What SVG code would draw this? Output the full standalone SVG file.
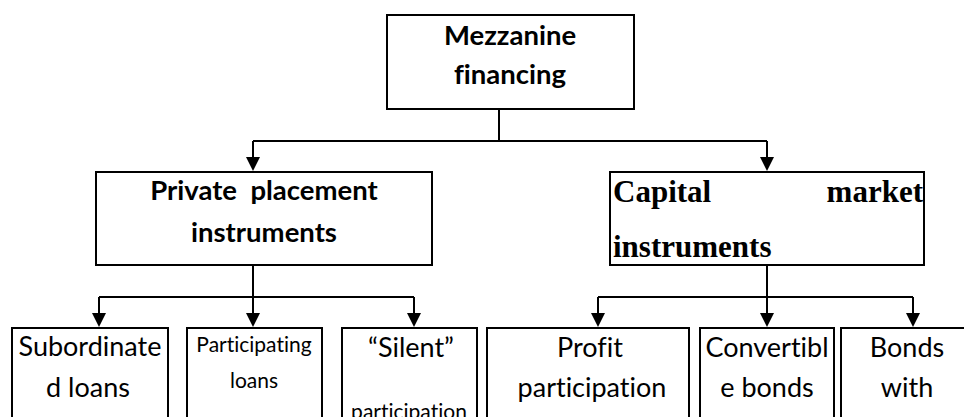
<svg xmlns="http://www.w3.org/2000/svg" width="964" height="417" viewBox="0 0 964 417">
  <style>
    text { font-variant-ligatures: none; }
    .box { fill: #ffffff; stroke: #000000; stroke-width: 2; }
    .link { fill: none; stroke: #000000; stroke-width: 2; }
    .hd { font-family: Lato, "Open Sans", sans-serif; font-weight: bold; font-size: 27.5px; fill: #000; text-anchor: middle; }
    .serif { font-family: "Liberation Serif", "Times New Roman", serif; font-weight: bold; font-size: 31px; fill: #000; }
    .leaf { font-family: Lato, "Open Sans", sans-serif; font-size: 27px; fill: #000; text-anchor: middle; }
    .leaf-sm { font-family: Lato, "Open Sans", sans-serif; font-size: 21px; fill: #000; text-anchor: middle; }
  </style>
  <rect width="964" height="417" fill="#ffffff"/>

  <!-- connectors: trunk lines, then arrowheads -->
  <g id="connectors">
    <g class="link">
      <path d="M499,109 V141 M253,141 H767"/>
      <path d="M253,141 V157"/>
      <path d="M767,141 V157"/>
      <path d="M253,265 V297 M99,297 H414"/>
      <path d="M767,265 V297 M598,297 H913"/>
      <path d="M99,297 V313 M253,297 V313 M414,297 V313 M598,297 V313 M767,297 V313 M913,297 V313"/>
    </g>
    <g fill="#000">
      <polygon points="246,157 260,157 253,171"/>
      <polygon points="760,157 774,157 767,171"/>
      <polygon points="92,313 106,313 99,327"/>
      <polygon points="246,313 260,313 253,327"/>
      <polygon points="407,313 421,313 414,327"/>
      <polygon points="591,313 605,313 598,327"/>
      <polygon points="760,313 774,313 767,327"/>
      <polygon points="906,313 920,313 913,327"/>
    </g>
  </g>

  <g id="root">
    <rect class="box" x="387" y="15" width="247" height="94"/>
    <text class="hd" x="510" y="45">Mezzanine</text>
    <text class="hd" x="510" y="84">financing</text>
  </g>

  <g id="private">
    <rect class="box" x="96" y="172" width="336" height="93"/>
    <text class="hd" x="264" y="200" xml:space="preserve">Private  placement</text>
    <text class="hd" x="264" y="242">instruments</text>
  </g>

  <g id="capital">
    <rect class="box" x="610" y="172" width="314" height="93"/>
    <text class="serif" x="613" y="202">Capital</text>
    <text class="serif" x="923" y="202" text-anchor="end">market</text>
    <text class="serif" x="613" y="257">instruments</text>
  </g>

  <g id="subordinated">
    <rect class="box" x="12" y="328" width="156" height="110"/>
    <text class="leaf" x="90" y="356">Subordinate</text>
    <text class="leaf" x="88" y="397">d loans</text>
  </g>

  <g id="participating">
    <rect class="box" x="187" y="328" width="135" height="110"/>
    <text class="leaf-sm" x="254" y="352">Participating</text>
    <text class="leaf-sm" x="254" y="388">loans</text>
  </g>

  <g id="silent">
    <rect class="box" x="342" y="328" width="135" height="110"/>
    <text class="leaf" x="411" y="357">“Silent”</text>
    <text class="leaf-sm" x="409" y="419">participation</text>
  </g>

  <g id="profit">
    <rect class="box" x="487" y="328" width="202" height="110"/>
    <text class="leaf" x="590" y="357">Profit</text>
    <text class="leaf" x="592" y="397">participation</text>
  </g>

  <g id="convertible">
    <rect class="box" x="700" y="328" width="134" height="110"/>
    <text class="leaf" x="767" y="357">Convertibl</text>
    <text class="leaf" x="767" y="397">e bonds</text>
  </g>

  <g id="warrants">
    <rect class="box" x="841" y="328" width="140" height="110"/>
    <text class="leaf" x="907" y="357">Bonds</text>
    <text class="leaf" x="907" y="397">with</text>
  </g>
</svg>
